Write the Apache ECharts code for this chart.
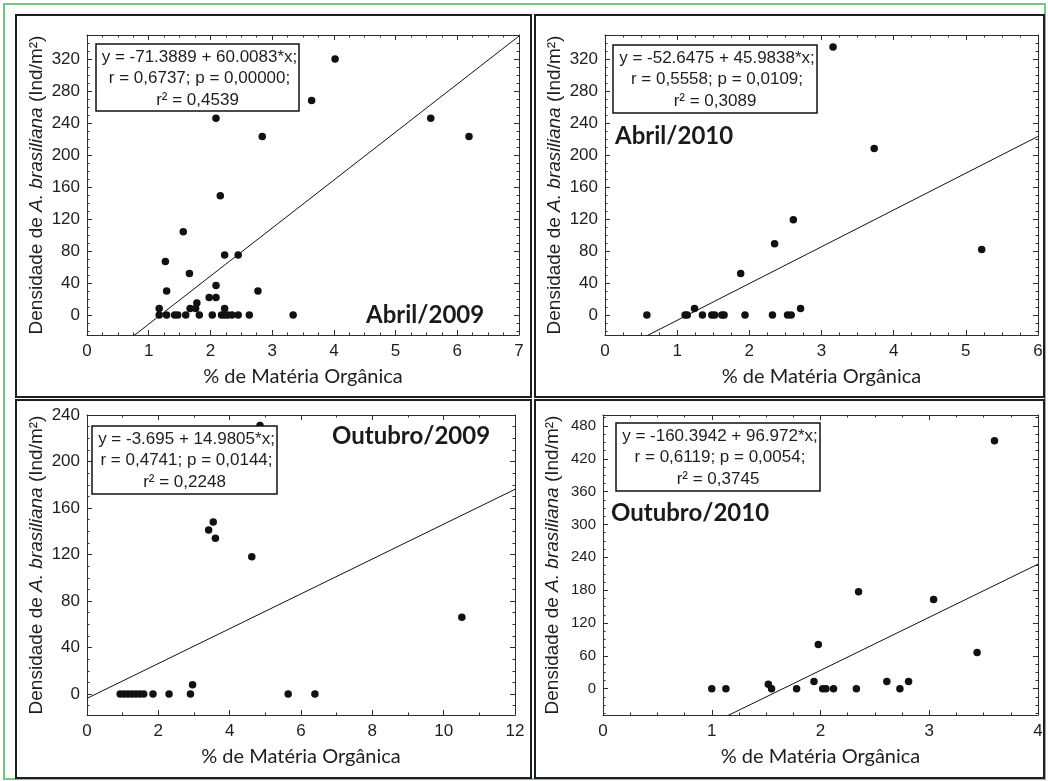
<!DOCTYPE html>
<html><head><meta charset="utf-8">
<script src="https://cdn.jsdelivr.net/npm/echarts@6/dist/echarts.min.js"></script>
<style>html,body{margin:0;padding:0;background:#fff}#c{width:1048px;height:781px}</style>
</head><body><div id="c"></div>
<script>
// ---------- DATA ----------
const panelTitles = ['Abril/2009', 'Abril/2010', 'Outubro/2009', 'Outubro/2010'];

const abril2009X = [4.02, 3.64, 2.09, 5.57, 2.84, 6.19, 2.16, 1.56, 1.27, 2.23, 2.45, 1.66, 1.29, 2.77, 2.09, 1.98, 2.09, 1.78, 1.67, 1.76, 1.17, 2.23,
  1.17, 1.29, 1.42, 1.47, 1.60, 1.82, 2.03, 2.18, 2.23, 2.28, 2.35, 2.45, 2.63, 3.34];
const abril2009Y = [320, 268, 246, 246, 223, 223, 149, 104, 67, 75, 75, 52, 30, 30, 37, 22, 22, 15, 8, 8, 8, 8,
  0, 0, 0, 0, 0, 0, 0, 0, 0, 0, 0, 0, 0, 0];

const abril2010X = [3.16, 3.73, 2.61, 2.35, 1.88, 5.22, 1.24, 2.71, 0.58, 1.11, 1.14, 1.35, 1.48, 1.52, 1.62, 1.65, 1.94, 2.32, 2.53, 2.58];
const abril2010Y = [335, 208, 119, 89, 52, 82, 8, 8, 0, 0, 0, 0, 0, 0, 0, 0, 0, 0, 0, 0];

const outubro2009X = [4.85, 3.54, 3.41, 3.60, 4.62, 10.51, 2.96, 0.93, 1.04, 1.15, 1.26, 1.37, 1.48, 1.59, 1.85, 2.30, 2.90, 5.64, 6.39];
const outubro2009Y = [231, 148, 141, 134, 118, 66, 8, 0, 0, 0, 0, 0, 0, 0, 0, 0, 0, 0, 0];

const outubro2010X = [3.60, 2.35, 3.04, 1.98, 3.44, 1.94, 2.61, 2.81, 1.52, 1.00, 1.13, 1.55, 1.78, 2.02, 2.05, 2.12, 2.33, 2.73];
const outubro2010Y = [453, 177, 163, 81, 66, 13, 13, 13, 8, 0, 0, 0, 0, 0, 0, 0, 0, 0];

const fitIntercepts = [-71.3889, -52.6475, -3.695, -160.3942];
const fitSlopes = [60.0083, 45.9838, 14.9805, 96.972];

const eqLines = [
  ['y = -71.3889 + 60.0083*x;', 'r = 0,6737; p = 0,00000;', 'r² = 0,4539'],
  ['y = -52.6475 + 45.9838*x;', 'r = 0,5558; p = 0,0109;', 'r² = 0,3089'],
  ['y = -3.695 + 14.9805*x;', 'r = 0,4741; p = 0,0144;', 'r² = 0,2248'],
  ['y = -160.3942 + 96.972*x;', 'r = 0,6119; p = 0,0054;', 'r² = 0,3745']
];

const xTickLabels = [
  [0, 1, 2, 3, 4, 5, 6, 7],
  [0, 1, 2, 3, 4, 5, 6],
  [0, 2, 4, 6, 8, 10, 12],
  [0, 1, 2, 3, 4]
];
const yTickLabels = [
  [0, 40, 80, 120, 160, 200, 240, 280, 320],
  [0, 40, 80, 120, 160, 200, 240, 280, 320],
  [0, 40, 80, 120, 160, 200, 240],
  [0, 60, 120, 180, 240, 300, 360, 420, 480]
];
const xTitle = '% de Matéria Orgânica';
const yTitle = 'Densidade de {it|A. brasiliana} (Ind/m²)';

// ---------- LAYOUT / STYLE ----------
const xs = [abril2009X, abril2010X, outubro2009X, outubro2010X];
const ys = [abril2009Y, abril2010Y, outubro2009Y, outubro2010Y];
const grids = [
  {left: 87, top: 35, width: 432, height: 300},
  {left: 605, top: 35, width: 433, height: 300},
  {left: 87, top: 415, width: 428, height: 300},
  {left: 603, top: 415, width: 435, height: 300}
];
const xRange = [[0, 7], [0, 6], [0, 12], [0, 4]];
const yRange = [[-25, 350], [-25, 350], [-18, 240], [-48, 500]];
const xMinorStep = [0.25, 0.25, 1, 0.25];
const yMinorStep = [10, 10, 10, 15];
const yLabelSize = [17, 17, 17, 15];
const eqBoxes = [
  {x: 96, y: 44, w: 203, h: 67},
  {x: 613, y: 45, w: 204, h: 68},
  {x: 92, y: 426, w: 185, h: 68},
  {x: 616, y: 423, w: 204, h: 68}
];
const titlePos = [
  {x: 366, y: 315}, {x: 615, y: 136}, {x: 332, y: 436}, {x: 611, y: 513}
];

const AX = '#2e2e2e';
const TXT = '#1e1e1e';
const ARIAL = 'Arial, Liberation Sans, sans-serif';
const CAL = 'Lato, Open Sans, sans-serif';

function minors(r, step) {
  const out = [];
  for (let v = Math.ceil(r[0] / step) * step; v <= r[1] + 1e-9; v += step) out.push(+v.toFixed(4));
  return out;
}

const xAxes = [], yAxes = [], series = [], graphics = [];

for (let i = 0; i < 4; i++) {
  const base = {type: 'value', gridIndex: i, splitLine: {show: false}};
  const xr = xRange[i], yr = yRange[i];
  const xm = minors(xr, xMinorStep[i]), ym = minors(yr, yMinorStep[i]);
  const mainX = xAxes.length;
  xAxes.push(Object.assign({}, base, {
    position: 'bottom', min: xr[0], max: xr[1],
    axisLine: {show: true, onZero: false, lineStyle: {color: AX, width: 1}},
    axisTick: {show: true, inside: true, length: 5, customValues: xTickLabels[i], lineStyle: {color: AX}},
    axisLabel: {customValues: xTickLabels[i], margin: 8, fontSize: 17, color: TXT, fontFamily: ARIAL},
    name: xTitle, nameLocation: 'middle', nameGap: 32,
    nameTextStyle: {fontSize: 20, color: TXT, fontFamily: CAL}
  }));
  xAxes.push(Object.assign({}, base, {
    position: 'top', min: xr[0], max: xr[1],
    axisLine: {show: true, onZero: false, lineStyle: {color: AX, width: 1}},
    axisTick: {show: true, inside: true, length: 5, customValues: xTickLabels[i], lineStyle: {color: AX}},
    axisLabel: {show: false}
  }));
  xAxes.push(Object.assign({}, base, {
    position: 'bottom', min: xr[0], max: xr[1],
    axisLine: {show: false, onZero: false},
    axisTick: {show: true, inside: true, length: 2.5, customValues: xm, lineStyle: {color: AX}},
    axisLabel: {show: false}
  }));
  xAxes.push(Object.assign({}, base, {
    position: 'top', min: xr[0], max: xr[1],
    axisLine: {show: false, onZero: false},
    axisTick: {show: true, inside: true, length: 2.5, customValues: xm, lineStyle: {color: AX}},
    axisLabel: {show: false}
  }));
  const mainY = yAxes.length;
  yAxes.push(Object.assign({}, base, {
    position: 'left', min: yr[0], max: yr[1],
    axisLine: {show: true, onZero: false, lineStyle: {color: AX, width: 1}},
    axisTick: {show: true, inside: true, length: 5, customValues: yTickLabels[i], lineStyle: {color: AX}},
    axisLabel: {customValues: yTickLabels[i], margin: 7, fontSize: yLabelSize[i], color: TXT, fontFamily: ARIAL},
    name: yTitle, nameLocation: 'middle', nameGap: 41, nameRotate: 90,
    nameTextStyle: {fontSize: 19, color: TXT, fontFamily: ARIAL,
      rich: {it: {fontStyle: 'italic', fontSize: 19, color: TXT, fontFamily: ARIAL}}}
  }));
  yAxes.push(Object.assign({}, base, {
    position: 'right', min: yr[0], max: yr[1],
    axisLine: {show: true, onZero: false, lineStyle: {color: AX, width: 1}},
    axisTick: {show: true, inside: true, length: 5, customValues: yTickLabels[i], lineStyle: {color: AX}},
    axisLabel: {show: false}
  }));
  yAxes.push(Object.assign({}, base, {
    position: 'left', min: yr[0], max: yr[1],
    axisLine: {show: false, onZero: false},
    axisTick: {show: true, inside: true, length: 2.5, customValues: ym, lineStyle: {color: AX}},
    axisLabel: {show: false}
  }));
  yAxes.push(Object.assign({}, base, {
    position: 'right', min: yr[0], max: yr[1],
    axisLine: {show: false, onZero: false},
    axisTick: {show: true, inside: true, length: 2.5, customValues: ym, lineStyle: {color: AX}},
    axisLabel: {show: false}
  }));

  series.push({
    type: 'scatter', xAxisIndex: mainX, yAxisIndex: mainY,
    data: xs[i].map((x, k) => [x, ys[i][k]]),
    symbol: 'circle', symbolSize: 7.5, itemStyle: {color: '#111', opacity: 1}, z: 3, silent: true
  });
  series.push({
    type: 'line', xAxisIndex: mainX, yAxisIndex: mainY, clip: true,
    data: xr.map(x => [x, fitIntercepts[i] + fitSlopes[i] * x]),
    symbol: 'none', lineStyle: {color: '#111', width: 1}, z: 2, silent: true
  });

  const b = eqBoxes[i];
  graphics.push({type: 'rect', shape: {x: b.x, y: b.y, width: b.w, height: b.h}, style: {fill: '#fff'}, z: 100});
  eqLines[i].forEach((t, k) => {
    graphics.push({type: 'text', x: b.x + b.w / 2 + (k === 2 ? 0 : 2), y: b.y + 13.5 + 21.3 * k, z: 101,
      style: {text: t, fill: TXT, font: '17px Arial, Liberation Sans, sans-serif', textAlign: 'center', textVerticalAlign: 'middle'}});
  });
  graphics.push({type: 'rect', shape: {x: b.x, y: b.y, width: b.w, height: b.h}, style: {fill: 'none', stroke: '#111', lineWidth: 1.5}, z: 102});

  const tp = titlePos[i];
  graphics.push({type: 'text', x: tp.x, y: tp.y, z: 103,
    style: {text: panelTitles[i], fill: '#1a1a1a', font: 'bold 24px Lato, Open Sans, sans-serif', textAlign: 'left', textVerticalAlign: 'middle'}});
}

// frames
graphics.push({type: 'rect', shape: {x: 4, y: 4, width: 1041, height: 775}, style: {fill: 'none', stroke: '#74c883', lineWidth: 2}, z: 90});
[[16, 15, 515, 382], [535, 15, 509, 382], [16, 400, 515, 378], [535, 400, 509, 378]].forEach(r => {
  graphics.push({type: 'rect', shape: {x: r[0], y: r[1], width: r[2], height: r[3]}, style: {fill: 'none', stroke: '#1e1e1e', lineWidth: 2}, z: 90});
});

const chart = echarts.init(document.getElementById('c'), null, {renderer: 'canvas'});
chart.setOption({
  backgroundColor: '#fff',
  animation: false,
  grid: grids.map(g => Object.assign({containLabel: false}, g)),
  xAxis: xAxes,
  yAxis: yAxes,
  series: series,
  graphic: {elements: graphics}
});
</script>
</body></html>
